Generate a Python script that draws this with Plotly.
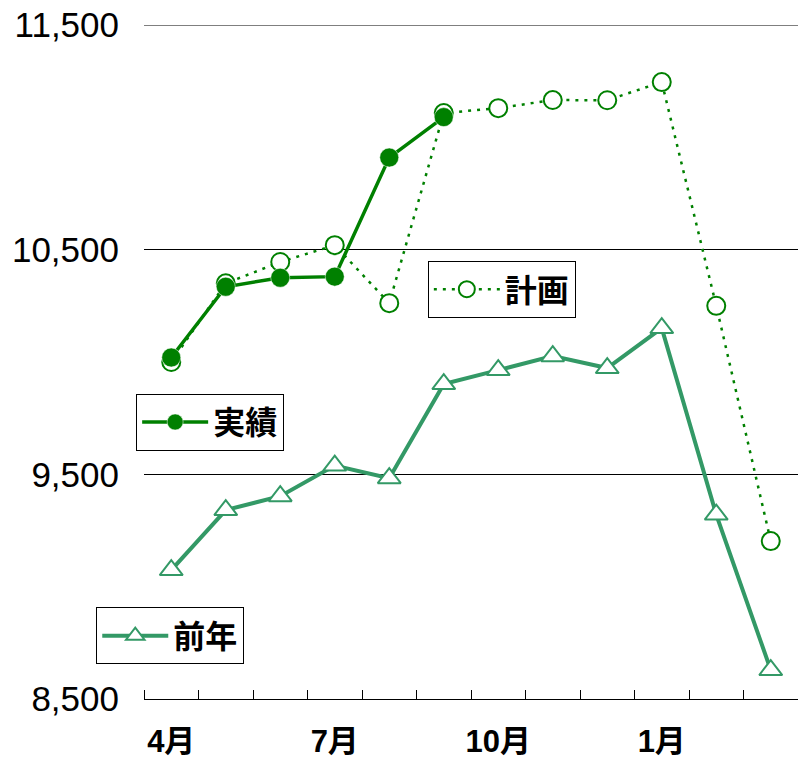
import plotly.graph_objects as go

months = ["4月", "5月", "6月", "7月", "8月", "9月", "10月", "11月", "12月", "1月", "2月", "3月"]
tick_labels = ["4月", "", "", "7月", "", "", "10月", "", "", "1月", "", ""]
actual = [10020, 10335, 10375, 10380, 10910, 11090, None, None, None, None, None, None]
plan = [10000, 10350, 10445, 10520, 10262, 11108, 11130, 11166, 11165, 11246, 10250, 9203]
prior = [9074, 9341, 9403, 9539, 9483, 9902, 9964, 10026, 9973, 10151, 9321, 8629]
y_ticks = [8500, 9500, 10500, 11500]
y_tick_text = ["8,500", "9,500", "10,500", "11,500"]

x = list(range(len(months)))
GREEN = "#008000"
PRIOR = "#339966"
CJK = "Liberation Sans, Noto Sans CJK JP, sans-serif"

fig = go.Figure()
fig.add_trace(go.Scatter(
    x=x, y=prior, name="前年", mode="lines+markers", legend="legend3",
    line=dict(color=PRIOR, width=4),
    marker=dict(symbol="triangle-up", size=20, color="white",
                line=dict(color=PRIOR, width=2)),
))
fig.add_trace(go.Scatter(
    x=x, y=plan, name="計画", mode="lines+markers", legend="legend",
    line=dict(color=GREEN, width=2.5, dash="3px,6px"),
    marker=dict(symbol="circle", size=18, color="white",
                line=dict(color=GREEN, width=2)),
))
fig.add_trace(go.Scatter(
    x=x, y=actual, name="実績", mode="lines+markers", legend="legend2",
    line=dict(color=GREEN, width=3.5),
    marker=dict(symbol="circle", size=19, color=GREEN,
                line=dict(color="white", width=0.5)),
))

legend_common = dict(
    bgcolor="white", bordercolor="black", borderwidth=1,
    font=dict(family=CJK, size=32, color="black", weight=700),
    xanchor="left", yanchor="top", itemwidth=66,
)
fig.update_layout(
    width=798, height=760,
    margin=dict(l=144, r=0, t=25, b=61),
    paper_bgcolor="white", plot_bgcolor="white",
    showlegend=True,
    legend=dict(x=0.434, y=0.65, **legend_common),
    legend2=dict(x=-0.012, y=0.453, **legend_common),
    legend3=dict(x=-0.073, y=0.136, **legend_common),
    xaxis=dict(
        range=[-0.5, 11.5], tickmode="array", tickvals=x, ticktext=tick_labels,
        ticks="", showgrid=False, zeroline=False,
        showline=True, linecolor="black", linewidth=1,
        tickfont=dict(family=CJK, size=31, color="black", weight=700),
        ticklabelstandoff=15,
        minor=dict(tickmode="linear", tick0=-0.5, dtick=1, ticks="inside",
                   ticklen=9, tickcolor="black", tickwidth=1, showgrid=False),
    ),
    yaxis=dict(
        range=[8500, 11500], tickmode="array",
        tickvals=y_ticks, ticktext=y_tick_text,
        showgrid=True, gridcolor="black", gridwidth=1,
        zeroline=False, showline=False, ticks="",
        tickfont=dict(family="Liberation Sans, Arial, sans-serif", size=35, color="black"),
        ticklabelstandoff=24,
    ),
    shapes=[dict(type="line", xref="paper", yref="y", x0=0, x1=1,
                 y0=y_ticks[-1], y1=y_ticks[-1],
                 line=dict(color="black", width=1), layer="below")],
)
fig.write_html("out.html")
